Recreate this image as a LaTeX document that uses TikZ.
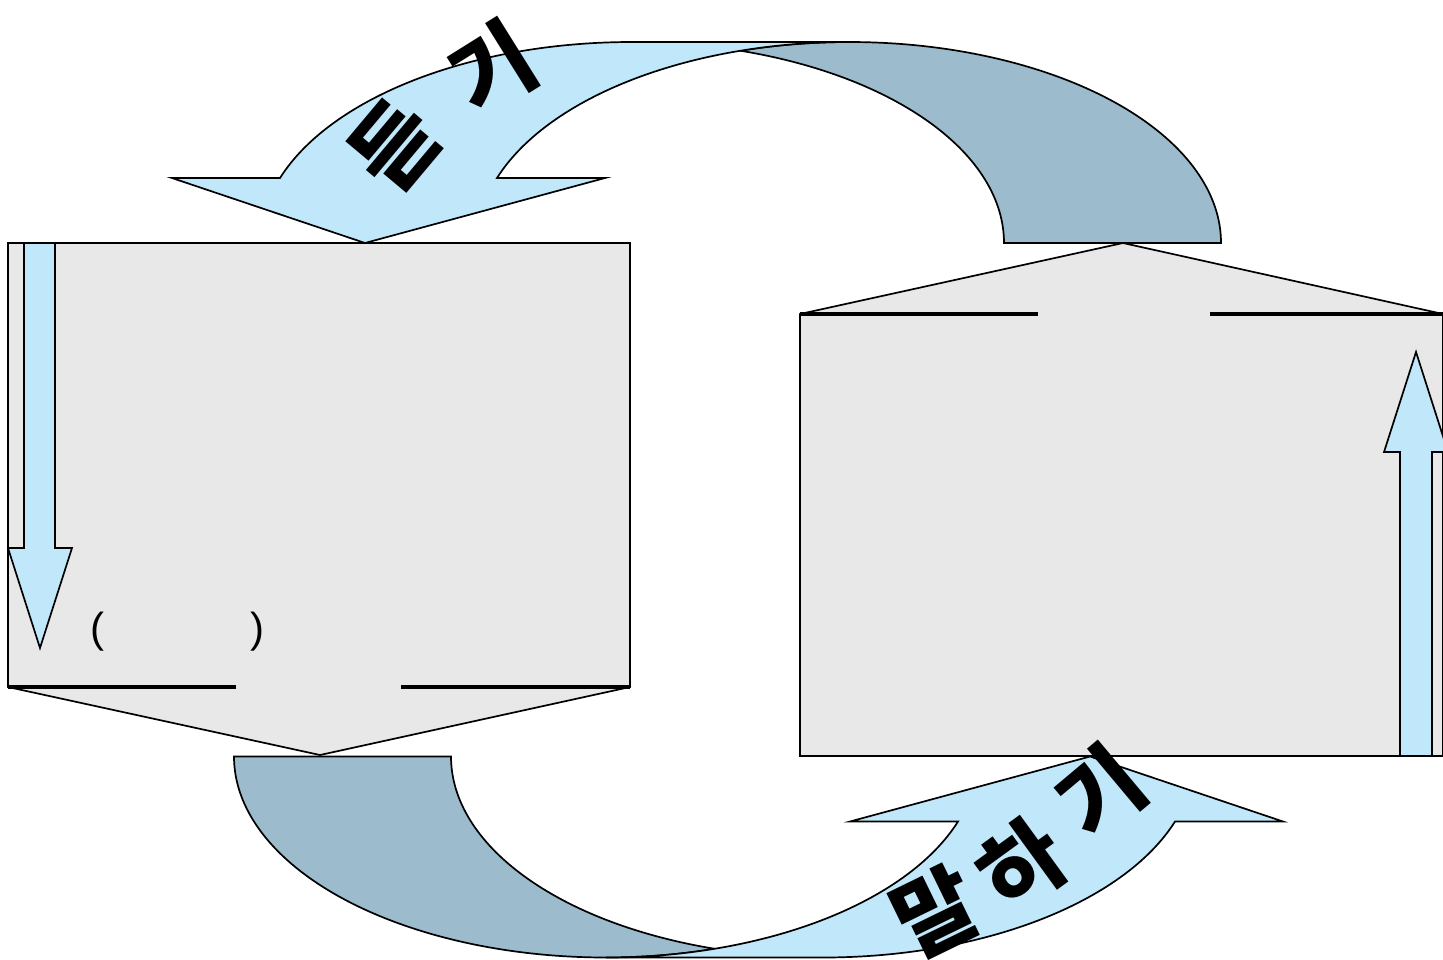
\documentclass[tikz,border=0pt]{standalone}
\usepackage{fontspec}
\setmainfont{Liberation Sans}
\newfontfamily\krfont{Noto Sans CJK KR}
\usetikzlibrary{calc}

\definecolor{boxgray}{RGB}{232,232,232}
\definecolor{frontblue}{RGB}{192,232,250}
\definecolor{backblue}{RGB}{156,187,204}

\tikzset{
  pagebox/.style={draw=black, fill=boxgray, line width=0.85pt},
  front/.style={draw=black, fill=frontblue, line width=0.85pt},
  back/.style={draw=black, fill=backblue, line width=0.85pt},
  blank/.style={line width=1.6pt},
  hangul/.style={font=\krfont\bfseries\fontsize{44}{48}\selectfont, inner sep=0pt},
  paren/.style={font=\fontsize{21}{25}\selectfont, inner sep=0pt}
}

% curved band arrow (pixel units, y downwards)
\newcommand{\bandarrow}{%
  \draw[back] (1221,243) arc[start angle=0, end angle=-106.96, x radius=372, y radius=201]
    arc[start angle=-73.04, end angle=0, x radius=372, y radius=201] -- cycle;
  \draw[front] (280,178) arc[start angle=-161.13, end angle=-90, x radius=372, y radius=201]
    -- (849,42) arc[start angle=-90, end angle=-161.13, x radius=372, y radius=201]
    -- (605,178) -- (365,243) -- (172,178) -- cycle;
}

\begin{document}
\begin{tikzpicture}[x=0.5pt, y=-0.5pt]
  \useasboundingbox (0,0) rectangle (1443,959);

  % Left box
  \draw[pagebox] (8,243) -- (630,243) -- (630,687) -- (320,755) -- (8,687) -- cycle;
  \draw[blank] (8,687) -- (236,687);
  \draw[blank] (401,687) -- (630,687);
  \draw[front] (24,243) -- (55,243) -- (55,548) -- (72,548) -- (40,648) -- (8,548) -- (24,548) -- cycle;
  \node[paren] (lpar) at (97,632) {(};
  \node[paren] (rpar) at (257,632) {)};

  % Right box
  \draw[pagebox] (800,314) -- (1123,243) -- (1443,314) -- (1443,756) -- (800,756) -- cycle;
  \draw[blank] (800,314) -- (1038,314);
  \draw[blank] (1210,314) -- (1443,314);
  \draw[front] (1400,756) -- (1400,452) -- (1384,452) -- (1416,352) -- (1448,452) -- (1432,452) -- (1432,756) -- cycle;

  % Curved arrows
  \bandarrow
  \begin{scope}[rotate around={180:(727.5,499.75)}]
    \bandarrow
  \end{scope}

  % Labels
  \node[hangul, rotate=50] (listen1) at (395,146) {듣};
  \node[hangul, rotate=32] (listen2) at (492,68) {기};
  \node[hangul, rotate=26] (speak1) at (935,912) {말};
  \node[hangul, rotate=36] (speak2) at (1022,865) {하};
  \node[hangul, rotate=40] (speak3) at (1100,792) {기};
\end{tikzpicture}
\end{document}
